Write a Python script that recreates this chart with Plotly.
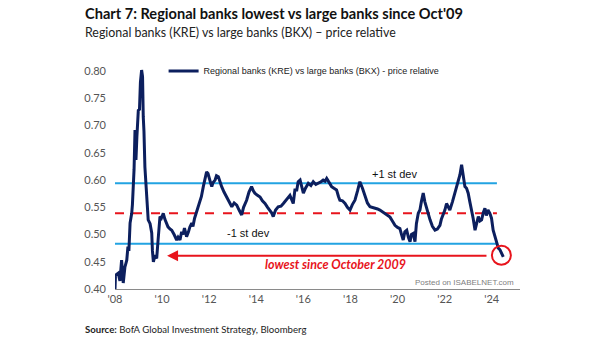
import plotly.graph_objects as go

# ---- data (decimal years, price relative) ----
years = [2008.00, 2008.02, 2008.14, 2008.21, 2008.28, 2008.35, 2008.42, 2008.50, 2008.55, 2008.59,
         2008.64, 2008.71, 2008.74, 2008.78, 2008.81, 2008.85, 2008.89, 2008.93, 2008.99, 2009.04,
         2009.08, 2009.13, 2009.17, 2009.20, 2009.23, 2009.27, 2009.31, 2009.35, 2009.41, 2009.49,
         2009.56, 2009.59, 2009.63, 2009.70, 2009.77, 2009.83, 2009.91, 2009.97, 2010.05, 2010.12,
         2010.19, 2010.25, 2010.34, 2010.41, 2010.51, 2010.62, 2010.68, 2010.76, 2010.83, 2010.89,
         2010.95, 2011.04, 2011.12, 2011.18, 2011.26, 2011.31, 2011.38, 2011.47, 2011.52, 2011.58,
         2011.61, 2011.67, 2011.75, 2011.82, 2011.89, 2011.95, 2012.00, 2012.06, 2012.11, 2012.16,
         2012.25, 2012.31, 2012.39, 2012.46, 2012.53, 2012.63, 2012.74, 2012.84, 2012.96, 2013.06,
         2013.17, 2013.27, 2013.38, 2013.46, 2013.59, 2013.69, 2013.80, 2013.88, 2013.94, 2014.05,
         2014.16, 2014.26, 2014.37, 2014.48, 2014.58, 2014.65, 2014.72, 2014.82, 2014.93, 2015.05,
         2015.15, 2015.28, 2015.43, 2015.57, 2015.64, 2015.72, 2015.78, 2015.86, 2015.92, 2016.00,
         2016.09, 2016.21, 2016.32, 2016.42, 2016.53, 2016.63, 2016.75, 2016.84, 2016.92, 2016.99,
         2017.07, 2017.20, 2017.30, 2017.41, 2017.49, 2017.55, 2017.66, 2017.77, 2017.87, 2017.98,
         2018.08, 2018.19, 2018.30, 2018.40, 2018.51, 2018.62, 2018.72, 2018.83, 2018.93, 2019.04,
         2019.15, 2019.25, 2019.36, 2019.46, 2019.57, 2019.68, 2019.78, 2019.89, 2020.00, 2020.10,
         2020.17, 2020.24, 2020.31, 2020.39, 2020.46, 2020.53, 2020.59, 2020.67, 2020.74, 2020.80,
         2020.88, 2020.95, 2021.01, 2021.09, 2021.16, 2021.24, 2021.31, 2021.38, 2021.48, 2021.59,
         2021.69, 2021.80, 2021.86, 2021.94, 2022.01, 2022.08, 2022.16, 2022.22, 2022.33, 2022.44,
         2022.51, 2022.58, 2022.65, 2022.72, 2022.79, 2022.86, 2022.93, 2023.00, 2023.07, 2023.15,
         2023.21, 2023.29, 2023.35, 2023.43, 2023.50, 2023.57, 2023.64, 2023.71, 2023.77, 2023.84,
         2023.92, 2023.99, 2024.06, 2024.14, 2024.21, 2024.28, 2024.35, 2024.41, 2024.49]
values = [0.400, 0.425, 0.429, 0.415, 0.453, 0.411, 0.440, 0.453, 0.478, 0.470,
          0.521, 0.539, 0.555, 0.588, 0.620, 0.692, 0.637, 0.680, 0.728, 0.730,
          0.780, 0.802, 0.790, 0.716, 0.690, 0.624, 0.600, 0.576, 0.527, 0.520,
          0.503, 0.470, 0.450, 0.462, 0.456, 0.490, 0.533, 0.530, 0.539, 0.528,
          0.521, 0.514, 0.510, 0.508, 0.500, 0.490, 0.495, 0.490, 0.505, 0.500,
          0.512, 0.496, 0.505, 0.514, 0.521, 0.515, 0.530, 0.542, 0.550, 0.557,
          0.563, 0.570, 0.588, 0.600, 0.615, 0.612, 0.606, 0.595, 0.588, 0.595,
          0.600, 0.608, 0.606, 0.595, 0.588, 0.578, 0.569, 0.560, 0.551, 0.558,
          0.554, 0.545, 0.536, 0.550, 0.563, 0.578, 0.588, 0.580, 0.576, 0.572,
          0.569, 0.562, 0.557, 0.550, 0.545, 0.540, 0.533, 0.545, 0.551, 0.552,
          0.557, 0.565, 0.572, 0.557, 0.582, 0.582, 0.597, 0.600, 0.590, 0.576,
          0.585, 0.594, 0.590, 0.597, 0.592, 0.594, 0.597, 0.600, 0.598, 0.603,
          0.598, 0.588, 0.585, 0.582, 0.570, 0.563, 0.562, 0.557, 0.550, 0.545,
          0.555, 0.563, 0.580, 0.597, 0.585, 0.569, 0.558, 0.551, 0.550, 0.548,
          0.547, 0.545, 0.542, 0.539, 0.535, 0.532, 0.525, 0.517, 0.513, 0.511,
          0.500, 0.490, 0.505, 0.508, 0.495, 0.487, 0.500, 0.502, 0.487, 0.520,
          0.539, 0.545, 0.560, 0.576, 0.560, 0.548, 0.535, 0.527, 0.515, 0.508,
          0.510, 0.517, 0.528, 0.536, 0.545, 0.557, 0.548, 0.545, 0.560, 0.576,
          0.590, 0.600, 0.610, 0.628, 0.605, 0.588, 0.585, 0.576, 0.560, 0.545,
          0.530, 0.508, 0.520, 0.533, 0.525, 0.527, 0.540, 0.548, 0.535, 0.545,
          0.539, 0.530, 0.508, 0.495, 0.484, 0.475, 0.472, 0.465, 0.459]

band_start = 2008.0
band_end = 2024.22
plus_1sd = 0.594
mean_level = 0.539
minus_1sd = 0.483
oct09_low = 0.461
arrow_from = 2023.84
arrow_to = 2010.21
circle_x = 2024.41
circle_y = 0.462

tick_years = [2008, 2010, 2012, 2014, 2016, 2018, 2020, 2022, 2024]
tick_text = ["'08", "'10", "'12", "'14", "'16", "'18", "'20", "'22", "'24"]
ytick_vals = [0.40, 0.45, 0.50, 0.55, 0.60, 0.65, 0.70, 0.75, 0.80]
ytick_text = ["0.40", "0.45", "0.50", "0.55", "0.60", "0.65", "0.70", "0.75", "0.80"]

NAVY = "#0c1f5e"
BLUE = "#22a3e2"
RED = "#e8141c"
LBL = "Lato"

fig = go.Figure()
fig.add_trace(go.Scatter(x=[band_start, band_end], y=[plus_1sd, plus_1sd], mode="lines",
                         line=dict(color=BLUE, width=2), showlegend=False, hoverinfo="skip"))
fig.add_trace(go.Scatter(x=[band_start, band_end], y=[minus_1sd, minus_1sd], mode="lines",
                         line=dict(color=BLUE, width=2), showlegend=False, hoverinfo="skip"))
fig.add_trace(go.Scatter(x=[band_start, band_end], y=[mean_level, mean_level], mode="lines",
                         line=dict(color=RED, width=2, dash="dash"), showlegend=False, hoverinfo="skip"))
fig.add_trace(go.Scatter(x=years, y=values, mode="lines",
                         name="Regional banks (KRE) vs large banks (BKX) - price relative",
                         line=dict(color=NAVY, width=3), cliponaxis=False))
fig.add_trace(go.Scatter(x=[circle_x], y=[circle_y], mode="markers", showlegend=False,
                         marker=dict(symbol="circle-open", size=19, color=RED, line=dict(width=2, color=RED))))

# red arrow
fig.add_annotation(x=arrow_to, y=oct09_low, ax=arrow_from, ay=oct09_low, xref="x", yref="y",
                   axref="x", ayref="y", text="", showarrow=True, arrowhead=2, arrowsize=1.1,
                   arrowwidth=2, arrowcolor=RED)

fig.add_annotation(x=2019.88, y=0.611, xref="x", yref="y", text="+1 st dev", showarrow=False,
                   font=dict(family="Liberation Sans", size=11, color="#111111"))
fig.add_annotation(x=2013.68, y=0.502, xref="x", yref="y", text="-1 st dev", showarrow=False,
                   font=dict(family="Liberation Sans", size=11, color="#111111"))
fig.add_annotation(x=2017.38, y=0.445, xref="x", yref="y", text="<b><i>lowest since October 2009</i></b>",
                   showarrow=False, font=dict(family=LBL, size=12.5, color=RED))

# titles
fig.add_annotation(x=-0.079, y=1.221, xref="paper", yref="paper", xanchor="left", yanchor="middle",
                   text="<b>Chart 7: Regional banks lowest vs large banks since Oct'09</b>", showarrow=False,
                   font=dict(family=LBL, size=14.6, color="#111111"))
fig.add_annotation(x=-0.079, y=1.133, xref="paper", yref="paper", xanchor="left", yanchor="middle",
                   text="Regional banks (KRE) vs large banks (BKX) \u2013 price relative", showarrow=False,
                   font=dict(family=LBL, size=12.4, color="#222222"))
fig.add_annotation(x=-0.079, y=-0.181, xref="paper", yref="paper", xanchor="left", yanchor="middle",
                   text="<b>Source:</b> BofA Global Investment Strategy, Bloomberg", showarrow=False,
                   font=dict(family=LBL, size=9.6, color="#222222"))
# watermark (single line above the axis)
fig.add_annotation(x=0.737, y=0.03, xref="paper", yref="paper", xanchor="left", yanchor="middle",
                   text="Posted on ISABELNET.com", showarrow=False,
                   font=dict(family="Liberation Sans", size=8, color="#808080"))

fig.update_layout(
    width=605, height=341,
    margin=dict(l=115, r=85, t=63, b=52),
    paper_bgcolor="white", plot_bgcolor="white",
    showlegend=True,
    legend=dict(x=0.12, y=0.965, xanchor="left", yanchor="middle", bgcolor="rgba(0,0,0,0)",
                font=dict(family="Liberation Sans Narrow, Liberation Sans", size=9, color="#222222"),
                itemwidth=30, tracegroupgap=0),
    xaxis=dict(range=[2008.0, 2025.2], tickvals=tick_years, ticktext=tick_text, showgrid=False,
               zeroline=False, showline=True, linecolor="#8a8a8a", linewidth=1, ticks="",
               tickfont=dict(family=LBL, size=11, color="#555555")),
    yaxis=dict(range=[0.40, 0.815], tickvals=ytick_vals, ticktext=ytick_text, showgrid=False,
               zeroline=False, showline=False, ticks="", ticklabelstandoff=8,
               tickfont=dict(family=LBL, size=11, color="#555555")),
)

fig.write_html("out.html")
